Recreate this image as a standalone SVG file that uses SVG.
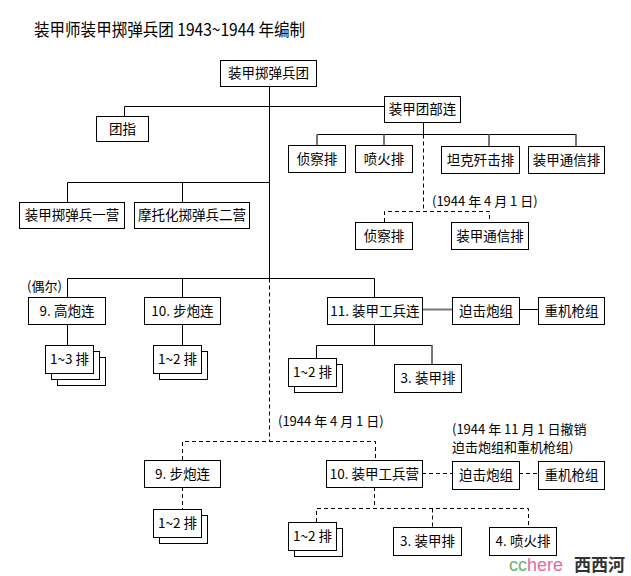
<svg xmlns="http://www.w3.org/2000/svg" width="631" height="576" viewBox="0 0 631 576">
<style>
.b{fill:#fff;stroke:#000;stroke-width:1}
.t{font-family:"Noto Sans CJK SC","Liberation Sans",sans-serif;font-size:13.5px;fill:#000;text-anchor:middle}
.a{font-family:"Noto Sans CJK SC","Liberation Sans",sans-serif;font-size:13px;fill:#000}
.s{fill:none;stroke:#000;stroke-width:1}
.g{fill:none;stroke:#777;stroke-width:2}
.d{fill:none;stroke:#000;stroke-width:1;stroke-dasharray:4 3}
</style>
<rect width="631" height="576" fill="#fff"/>
<text x="34" y="36" font-family="'Noto Sans CJK SC','Liberation Sans',sans-serif" font-size="17" textLength="271" lengthAdjust="spacingAndGlyphs">装甲师装甲掷弹兵团 1943~1944 年编制</text>

<g id="connectors">
<path class="s" d="M269.5 86V278.5"/>
<path class="s" d="M124.5 116V106.5H384"/>
<path class="s" d="M423.5 122V134.5M317 134.5H576.5"/>
<path class="g" d="M317 134.5V145M384 134.5V145M489 134.5V146M576 134.5V146"/>
<path class="s" d="M67.5 202V182.5H269.5M182.5 182.5V202"/>
<path class="s" d="M67.5 297V278.5H374.5V297M182.5 278.5V297"/>
<path class="s" d="M67.5 324V345M182.5 324V345"/>
<path class="g" d="M422 309.5H452"/>
<path class="s" d="M519 309.5H538"/>
<path class="s" d="M374.5 324V345.5M316.5 358V345.5H432.5"/>
<path class="g" d="M432 345.5V364"/>
<path class="d" d="M423.5 134.5V211.5M384.5 222V211.5H489.5V222"/>
<path class="d" d="M269.5 278.5V441.5M182.5 460V441.5H375.5V460"/>
<path class="d" d="M182.5 487V509"/>
<path class="d" d="M422 473.5H452M519 473.5H538"/>
<path class="d" d="M374.5 487V508.5M316.5 522V508.5H528.5V527M432.5 508.5V527"/>
</g>

<g id="n_regiment"><rect class="b" x="220.5" y="60.5" width="96" height="26"/><text class="t" x="268.5" y="78">装甲掷弹兵团</text></g>
<g id="n_tuanzhi"><rect class="b" x="96.5" y="116.5" width="52" height="25"/><text class="t" x="122.5" y="133.5">团指</text></g>
<g id="n_hq"><rect class="b" x="384.5" y="96.5" width="76" height="26"/><text class="t" x="422.5" y="114">装甲团部连</text></g>
<g id="n_recon"><rect class="b" x="288.5" y="145.5" width="57" height="27"/><text class="t" x="317" y="163.5">侦察排</text></g>
<g id="n_flame"><rect class="b" x="355.5" y="145.5" width="57" height="27"/><text class="t" x="384" y="163.5">喷火排</text></g>
<g id="n_at"><rect class="b" x="441.5" y="146.5" width="78" height="27"/><text class="t" x="480.5" y="164.5">坦克歼击排</text></g>
<g id="n_sig"><rect class="b" x="528.5" y="146.5" width="76" height="27"/><text class="t" x="566.5" y="164.5">装甲通信排</text></g>
<text class="a" x="432" y="206">(1944 年 4 月 1 日)</text>
<g id="n_recon2"><rect class="b" x="355.5" y="222.5" width="57" height="27"/><text class="t" x="384" y="240.5">侦察排</text></g>
<g id="n_sig2"><rect class="b" x="451.5" y="222.5" width="77" height="27"/><text class="t" x="490" y="240.5">装甲通信排</text></g>
<g id="n_bn1"><rect class="b" x="19.5" y="202.5" width="105" height="26"/><text class="t" x="72" y="220">装甲掷弹兵一营</text></g>
<g id="n_bn2"><rect class="b" x="134.5" y="202.5" width="115" height="26"/><text class="t" x="192" y="220">摩托化掷弹兵二营</text></g>

<text class="a" x="27" y="291">(偶尔)</text>
<g id="n_flak"><rect class="b" x="28.5" y="297.5" width="77" height="27"/><text class="t" x="67" y="315.5">9. 高炮连</text></g>
<g id="n_ig"><rect class="b" x="144.5" y="297.5" width="76" height="27"/><text class="t" x="182.5" y="315.5">10. 步炮连</text></g>
<g id="n_pio"><rect class="b" x="327.5" y="297.5" width="95" height="27"/><text class="t" x="375" y="315.5">11. 装甲工兵连</text></g>
<g id="n_mortar"><rect class="b" x="452.5" y="297.5" width="67" height="27"/><text class="t" x="486" y="315.5">迫击炮组</text></g>
<g id="n_hmg"><rect class="b" x="538.5" y="297.5" width="66" height="27"/><text class="t" x="571.5" y="315.5">重机枪组</text></g>

<g id="n_flak_pl"><rect class="b" x="57.5" y="357.5" width="48" height="28"/><rect class="b" x="51.5" y="351.5" width="48" height="28"/><rect class="b" x="45.5" y="345.5" width="48" height="28"/><text class="t" x="69.5" y="364">1~3 排</text></g>
<g id="n_ig_pl"><rect class="b" x="159.5" y="351.5" width="48" height="28"/><rect class="b" x="153.5" y="345.5" width="48" height="28"/><text class="t" x="177.5" y="364">1~2 排</text></g>
<g id="n_pio_pl"><rect class="b" x="294.5" y="364.5" width="48" height="28"/><rect class="b" x="288.5" y="358.5" width="48" height="28"/><text class="t" x="312.5" y="377">1~2 排</text></g>
<g id="n_pio_arm"><rect class="b" x="394.5" y="364.5" width="67" height="28"/><text class="t" x="428" y="383">3. 装甲排</text></g>

<text class="a" x="278" y="426">(1944 年 4 月 1 日)</text>
<text class="a" x="452" y="434">(1944 年 11 月 1 日撤销</text>
<text class="a" x="452" y="452">迫击炮组和重机枪组)</text>

<g id="n_ig2"><rect class="b" x="144.5" y="460.5" width="76" height="27"/><text class="t" x="182.5" y="478.5">9. 步炮连</text></g>
<g id="n_pbn"><rect class="b" x="326.5" y="460.5" width="96" height="27"/><text class="t" x="374.5" y="478.5">10. 装甲工兵营</text></g>
<g id="n_mortar2"><rect class="b" x="452.5" y="461.5" width="67" height="28"/><text class="t" x="486" y="480">迫击炮组</text></g>
<g id="n_hmg2"><rect class="b" x="538.5" y="461.5" width="66" height="28"/><text class="t" x="571.5" y="480">重机枪组</text></g>
<g id="n_ig2_pl"><rect class="b" x="159.5" y="515.5" width="48" height="28"/><rect class="b" x="153.5" y="509.5" width="48" height="28"/><text class="t" x="177.5" y="528">1~2 排</text></g>
<g id="n_pbn_pl"><rect class="b" x="294.5" y="528.5" width="48" height="28"/><rect class="b" x="288.5" y="522.5" width="48" height="28"/><text class="t" x="312.5" y="541">1~2 排</text></g>
<g id="n_pbn_arm"><rect class="b" x="393.5" y="527.5" width="68" height="28"/><text class="t" x="427.5" y="546">3. 装甲排</text></g>
<g id="n_pbn_flame"><rect class="b" x="489.5" y="527.5" width="67" height="28"/><text class="t" x="523" y="546">4. 喷火排</text></g>

<text x="509" y="571" font-family="'Liberation Sans',sans-serif" font-size="18"><tspan fill="#6ab46a">cc</tspan><tspan fill="#e46aa2">here</tspan></text>
<text x="574" y="571" font-family="'Noto Sans CJK SC',sans-serif" font-size="17" font-weight="bold" fill="#333">西西河</text>
</svg>
